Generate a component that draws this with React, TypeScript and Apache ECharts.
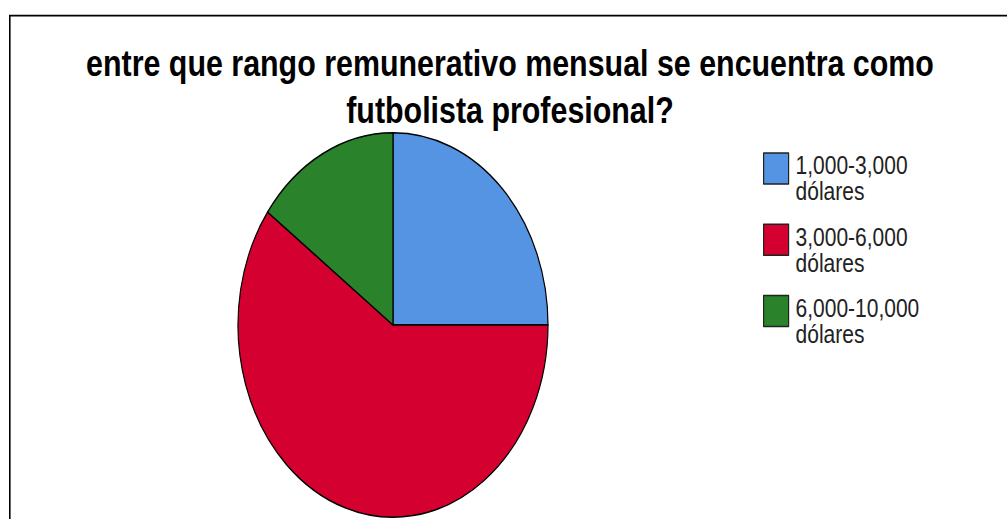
import React, { useEffect, useRef } from "react";
import * as echarts from "echarts";

const titleLines = [
  "entre que rango remunerativo mensual se encuentra como",
  "futbolista profesional?",
];
const categories = ["1,000-3,000\ndólares", "3,000-6,000\ndólares", "6,000-10,000\ndólares"];
const values = [25, 60, 15];
const colors = ["#5594e2", "#d40030", "#2a822a"];

const STRETCH = 1.24;
const W = 1007;
const H = 519 / STRETCH;

export default function App() {
  const ref = useRef<HTMLDivElement>(null);
  useEffect(() => {
    if (!ref.current) return;
    const chart = echarts.init(ref.current, null, { renderer: "svg" });
    chart.setOption({
      animation: false,
      backgroundColor: "#ffffff",
      color: colors,
      graphic: [
        {
          type: "rect",
          shape: { x: 9.8, y: 12.6, width: 1100, height: 600 },
          style: { fill: "none", stroke: "#000", lineWidth: 1.6 },
          silent: true,
        },
        {
          type: "text",
          x: 510,
          y: 50.5,
          style: {
            text: titleLines[0],
            font: "bold 30.4px Arial, 'Liberation Sans', sans-serif",
            fill: "#000",
            align: "center",
            verticalAlign: "middle",
          },
        },
        {
          type: "text",
          x: 510,
          y: 88.5,
          style: {
            text: titleLines[1],
            font: "bold 30.4px Arial, 'Liberation Sans', sans-serif",
            fill: "#000",
            align: "center",
            verticalAlign: "middle",
          },
        },
      ],
      legend: {
        orient: "vertical",
        left: 763,
        top: 110.9,
        padding: 0,
        itemWidth: 25,
        itemHeight: 25,
        itemGap: 3.5,
        icon: "rect",
        itemStyle: { borderColor: "#222", borderWidth: 1.2 },
        formatter: (name: string) =>
          "{s| }\n" + name.split("\n").map((l) => "{a|" + l + "}").join("\n"),
        textStyle: {
          fontFamily: "Arial, 'Liberation Sans', sans-serif",
          fontSize: 21,
          color: "#222",
          rich: {
            s: { fontSize: 8, lineHeight: 16, padding: [0, 0, 0, 2] },
            a: {
              fontFamily: "Arial, 'Liberation Sans', sans-serif",
              fontSize: 21,
              lineHeight: 21,
              color: "#222",
              padding: [0, 0, 0, 2],
            },
          },
        },
        data: categories,
      },
      series: [
        {
          type: "pie",
          center: [393, 262.1],
          radius: 155,
          startAngle: 90,
          clockwise: true,
          label: { show: false },
          labelLine: { show: false },
          emphasis: { disabled: true },
          itemStyle: { borderColor: "#000", borderWidth: 1.2 },
          data: categories.map((name, i) => ({ name, value: values[i] })),
        },
      ],
    });
    return () => chart.dispose();
  }, []);
  return (
    <div
      ref={ref}
      style={{
        position: "absolute",
        left: 0,
        top: 0,
        width: W,
        height: H,
        transform: `scaleY(${STRETCH})`,
        transformOrigin: "0 0",
      }}
    />
  );
}
